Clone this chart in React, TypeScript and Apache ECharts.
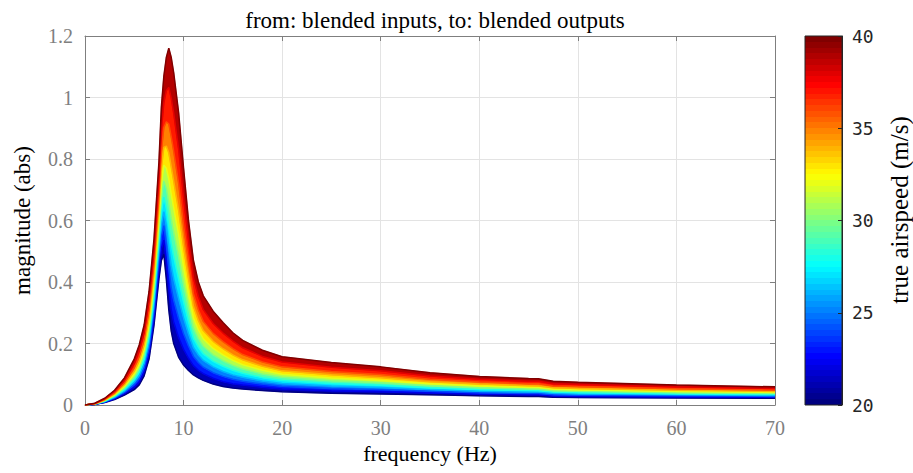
import React, { useEffect, useRef } from "react";
import * as echarts from "echarts";

// frequency samples (Hz)
const freqs = [0, 1, 2, 3, 4, 5, 5.5, 6, 6.5, 7, 7.5, 7.75, 8, 8.25, 8.5, 8.75, 9, 9.5, 10, 10.5, 11, 11.5, 12, 13, 14, 15, 16, 18, 20, 25, 30, 35, 40, 45, 46, 47.5, 50, 60, 70];

// true airspeed of each curve (m/s)
const speeds = [20, 22, 24, 26, 28, 30, 32, 34, 36, 38, 40];

// magnitude (abs) of each curve
const mag20 = [0, 0.002, 0.008, 0.018, 0.032, 0.05, 0.065, 0.095, 0.15, 0.26, 0.41, 0.47, 0.49, 0.41, 0.31, 0.24, 0.2, 0.155, 0.13, 0.112, 0.098, 0.088, 0.08, 0.068, 0.06, 0.055, 0.052, 0.047, 0.043, 0.038, 0.036, 0.033, 0.03, 0.028, 0.028, 0.025, 0.024, 0.023, 0.022];
const mag22 = [0, 0.002, 0.009, 0.02, 0.037, 0.058, 0.075, 0.108, 0.168, 0.282, 0.44, 0.51, 0.536, 0.468, 0.378, 0.311, 0.27, 0.219, 0.181, 0.152, 0.128, 0.113, 0.102, 0.087, 0.076, 0.069, 0.065, 0.058, 0.052, 0.046, 0.043, 0.039, 0.035, 0.033, 0.033, 0.029, 0.028, 0.026, 0.025];
const mag24 = [0, 0.003, 0.01, 0.023, 0.041, 0.066, 0.086, 0.121, 0.185, 0.305, 0.471, 0.55, 0.583, 0.525, 0.446, 0.382, 0.341, 0.282, 0.232, 0.192, 0.158, 0.138, 0.123, 0.105, 0.093, 0.084, 0.077, 0.068, 0.061, 0.054, 0.05, 0.045, 0.04, 0.037, 0.037, 0.033, 0.032, 0.03, 0.028];
const mag26 = [0, 0.003, 0.011, 0.025, 0.045, 0.074, 0.096, 0.135, 0.203, 0.327, 0.501, 0.59, 0.629, 0.583, 0.514, 0.454, 0.411, 0.346, 0.284, 0.232, 0.187, 0.163, 0.145, 0.124, 0.109, 0.098, 0.09, 0.078, 0.07, 0.062, 0.057, 0.05, 0.045, 0.042, 0.042, 0.038, 0.036, 0.033, 0.031];
const mag28 = [0, 0.003, 0.012, 0.028, 0.05, 0.082, 0.107, 0.148, 0.22, 0.35, 0.532, 0.63, 0.676, 0.64, 0.582, 0.525, 0.482, 0.409, 0.335, 0.271, 0.217, 0.188, 0.166, 0.142, 0.126, 0.113, 0.103, 0.089, 0.08, 0.07, 0.064, 0.056, 0.05, 0.047, 0.046, 0.042, 0.04, 0.036, 0.034];
const mag30 = [0, 0.004, 0.014, 0.03, 0.055, 0.091, 0.118, 0.163, 0.24, 0.375, 0.566, 0.675, 0.728, 0.705, 0.659, 0.605, 0.561, 0.481, 0.392, 0.316, 0.251, 0.216, 0.191, 0.163, 0.144, 0.129, 0.117, 0.101, 0.09, 0.079, 0.072, 0.063, 0.056, 0.052, 0.051, 0.046, 0.045, 0.04, 0.037];
const mag32 = [0, 0.004, 0.015, 0.033, 0.06, 0.1, 0.13, 0.178, 0.26, 0.4, 0.6, 0.72, 0.78, 0.77, 0.735, 0.685, 0.64, 0.553, 0.45, 0.361, 0.284, 0.244, 0.215, 0.184, 0.163, 0.145, 0.131, 0.113, 0.1, 0.088, 0.08, 0.069, 0.062, 0.057, 0.057, 0.051, 0.049, 0.044, 0.041];
const mag34 = [0, 0.004, 0.016, 0.036, 0.066, 0.11, 0.143, 0.194, 0.282, 0.428, 0.638, 0.77, 0.838, 0.842, 0.82, 0.774, 0.728, 0.632, 0.514, 0.411, 0.321, 0.275, 0.242, 0.207, 0.183, 0.163, 0.147, 0.126, 0.111, 0.098, 0.089, 0.076, 0.068, 0.063, 0.062, 0.056, 0.054, 0.048, 0.044];
const mag36 = [0, 0.005, 0.018, 0.039, 0.072, 0.121, 0.157, 0.212, 0.306, 0.459, 0.68, 0.825, 0.902, 0.921, 0.914, 0.872, 0.825, 0.72, 0.584, 0.466, 0.362, 0.31, 0.272, 0.233, 0.206, 0.183, 0.164, 0.14, 0.124, 0.109, 0.099, 0.084, 0.075, 0.069, 0.069, 0.062, 0.06, 0.053, 0.048];
const mag38 = [0, 0.005, 0.02, 0.044, 0.08, 0.135, 0.176, 0.235, 0.337, 0.498, 0.733, 0.895, 0.983, 1.022, 1.033, 0.997, 0.948, 0.831, 0.674, 0.535, 0.414, 0.353, 0.31, 0.265, 0.234, 0.208, 0.186, 0.158, 0.14, 0.123, 0.111, 0.094, 0.084, 0.077, 0.077, 0.069, 0.067, 0.059, 0.054];
const mag40 = [0, 0.006, 0.022, 0.048, 0.088, 0.15, 0.195, 0.26, 0.37, 0.54, 0.79, 0.97, 1.07, 1.13, 1.16, 1.13, 1.08, 0.95, 0.77, 0.6, 0.47, 0.4, 0.355, 0.305, 0.268, 0.235, 0.21, 0.178, 0.157, 0.138, 0.124, 0.105, 0.093, 0.086, 0.085, 0.077, 0.074, 0.065, 0.059];

const magnitudes = [mag20, mag22, mag24, mag26, mag28, mag30, mag32, mag34, mag36, mag38, mag40];

// colour bar range and ticks
const speedMin = 20;
const speedMax = 40;
const speedTick = 5;

const SERIF = "Liberation Serif";
const MONO = "DejaVu Sans Mono";
const AXIS_GREY = "#7f7f7f";

function clamp01(x: number) {
  return Math.max(0, Math.min(1, x));
}
function jet(t: number): string {
  const r = clamp01(Math.min(4 * t - 1.5, -4 * t + 4.5));
  const g = clamp01(Math.min(4 * t - 0.5, -4 * t + 3.5));
  const b = clamp01(Math.min(4 * t + 0.5, -4 * t + 2.5));
  const h = (v: number) => Math.round(v * 255).toString(16).padStart(2, "0");
  return "#" + h(r) + h(g) + h(b);
}
const tOf = (v: number) => (v - speedMin) / (speedMax - speedMin);

export default function App() {
  const ref = useRef<HTMLDivElement>(null);

  useEffect(() => {
    document.body.style.margin = "0";
    if (!ref.current) return;
    const chart = echarts.init(ref.current, undefined, { renderer: "svg" });

    // filled band between each pair of neighbouring curves
    const bandSeries = {
      type: "custom",
      xAxisIndex: 0,
      yAxisIndex: 0,
      clip: true,
      silent: true,
      z: 2,
      data: speeds.slice(1).map((v, j) => [0, 0, j + 1]),
      encode: { x: 0, y: 1 },
      renderItem: (params: any, api: any) => {
        const k = params.dataIndex + 1;
        const upper = freqs.map((f, i) => api.coord([f, magnitudes[k][i]]));
        const lower = freqs.map((f, i) => api.coord([f, magnitudes[k - 1][i]])).reverse();
        const color = jet(tOf((speeds[k] + speeds[k - 1]) / 2));
        return {
          type: "polygon",
          shape: { points: upper.concat(lower) },
          style: { fill: color, stroke: color, lineWidth: 0.5 },
        };
      },
    };

    // the curves themselves
    const lineSeries = speeds.map((v, k) => ({
      type: "line",
      name: String(v) + " m/s",
      xAxisIndex: 0,
      yAxisIndex: 0,
      showSymbol: false,
      symbol: "none",
      lineStyle: { width: 1.5, color: jet(tOf(v)) },
      data: freqs.map((f, i) => [f, magnitudes[k][i]]),
      z: 3,
    }));

    const nSteps = 64;
    const stops: { offset: number; color: string }[] = [];
    for (let i = 0; i < nSteps; i++) {
      const c = jet(1 - i / (nSteps - 1));
      stops.push({ offset: i / nSteps, color: c });
      stops.push({ offset: (i + 1) / nSteps, color: c });
    }
    const gradient = new echarts.graphic.LinearGradient(0, 0, 0, 1, stops);

    const nameStyle = (size: number) => ({ fontFamily: SERIF, fontSize: size, color: "#000" });

    const option: any = {
      animation: false,
      backgroundColor: "#ffffff",
      textStyle: { fontFamily: SERIF },
      title: {
        text: "from: blended inputs, to: blended outputs",
        left: 430,
        top: 4,
        textAlign: "center",
        textStyle: { fontFamily: SERIF, fontSize: 23, fontWeight: "normal", color: "#000" },
      },
      graphic: [
        {
          type: "text",
          x: 899,
          y: 210,
          rotation: Math.PI / 2,
          style: {
            text: "true airspeed (m/s)",
            align: "center",
            verticalAlign: "middle",
            fontFamily: SERIF,
            fontSize: 25,
            fill: "#000",
          },
        },
      ],
      grid: [
        { left: 85, right: 138, top: 36, bottom: 68 },
        { left: 805, width: 37, top: 36, bottom: 68 },
      ],
      xAxis: [
        {
          gridIndex: 0,
          type: "value",
          min: 0,
          max: 70,
          interval: 10,
          name: "frequency (Hz)",
          nameLocation: "middle",
          nameGap: 35,
          nameTextStyle: nameStyle(22),
          axisLine: { show: true, onZero: false, lineStyle: { color: AXIS_GREY } },
          axisTick: { show: true, inside: true, length: 5, lineStyle: { color: AXIS_GREY } },
          axisLabel: { color: AXIS_GREY, fontFamily: SERIF, fontSize: 20, margin: 13 },
          splitLine: { show: true, lineStyle: { color: "#e3e3e3" } },
        },
        {
          gridIndex: 0,
          type: "value",
          position: "top",
          min: 0,
          max: 70,
          interval: 10,
          axisLine: { show: true, onZero: false, lineStyle: { color: AXIS_GREY } },
          axisTick: { show: true, inside: true, length: 5, lineStyle: { color: AXIS_GREY } },
          axisLabel: { show: false },
          splitLine: { show: false },
        },
        { gridIndex: 1, type: "value", min: 0, max: 1, show: false },
      ],
      yAxis: [
        {
          gridIndex: 0,
          type: "value",
          min: 0,
          max: 1.2,
          interval: 0.2,
          name: "magnitude (abs)",
          nameLocation: "middle",
          nameGap: 51,
          nameTextStyle: nameStyle(23),
          axisLine: { show: true, onZero: false, lineStyle: { color: AXIS_GREY } },
          axisTick: { show: true, inside: true, length: 5, lineStyle: { color: AXIS_GREY } },
          axisLabel: { color: AXIS_GREY, fontFamily: SERIF, fontSize: 20, margin: 12 },
          splitLine: { show: true, lineStyle: { color: "#e3e3e3" } },
        },
        {
          gridIndex: 0,
          type: "value",
          position: "right",
          min: 0,
          max: 1.2,
          interval: 0.2,
          axisLine: { show: true, onZero: false, lineStyle: { color: AXIS_GREY } },
          axisTick: { show: true, inside: true, length: 5, lineStyle: { color: AXIS_GREY } },
          axisLabel: { show: false },
          splitLine: { show: false },
        },
        {
          gridIndex: 1,
          type: "value",
          position: "right",
          min: speedMin,
          max: speedMax,
          interval: speedTick,
          z: 10,
          axisLine: { show: true, onZero: false, lineStyle: { color: "#262626" } },
          axisTick: { show: true, inside: true, length: 4, lineStyle: { color: "#262626" } },
          axisLabel: { color: "#262626", fontFamily: MONO, fontSize: 18, margin: 10 },
          splitLine: { show: false },
        },
      ],
      series: [
        bandSeries,
        ...lineSeries,
        {
          type: "custom",
          xAxisIndex: 2,
          yAxisIndex: 2,
          z: 1,
          encode: { x: 0, y: [1, 2] },
          data: [[0, speedMin, speedMax]],
          renderItem: (params: any, api: any) => {
            const p0 = api.coord([0, api.value(1)]);
            const p1 = api.coord([1, api.value(2)]);
            return {
              type: "rect",
              shape: { x: p0[0], y: p1[1], width: p1[0] - p0[0], height: p0[1] - p1[1] },
              style: { fill: gradient, stroke: "#262626", lineWidth: 1 },
            };
          },
        },
      ],
    };

    chart.setOption(option);
    return () => chart.dispose();
  }, []);

  return <div ref={ref} style={{ width: 913, height: 473 }} />;
}
